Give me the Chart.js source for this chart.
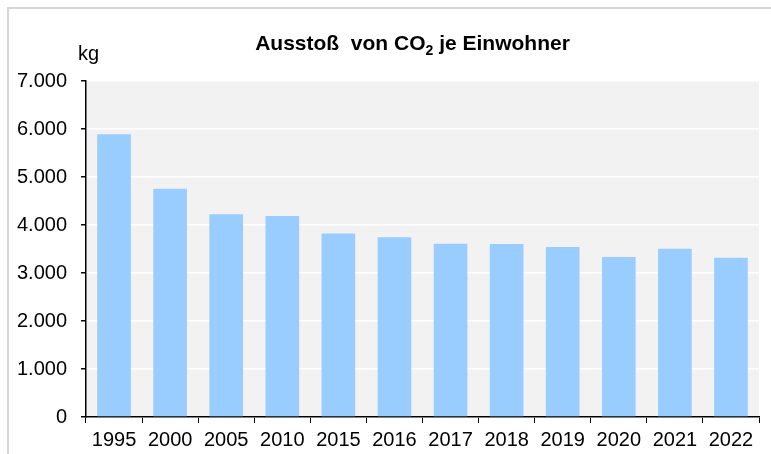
<!DOCTYPE html>
<html>
<head>
<meta charset="utf-8">
<script src="https://cdn.jsdelivr.net/npm/chart.js@4/dist/chart.umd.min.js"></script>
<style>
  html, body { margin: 0; padding: 0; background: #ffffff; }
  #wrap { width: 771px; height: 454px; }
</style>
</head>
<body>
<div id="wrap"><canvas id="c" width="771" height="454"></canvas></div>
<script>
// ---- data ----
const years = ['1995','2000','2005','2010','2015','2016','2017','2018','2019','2020','2021','2022'];
const co2PerCapita = [5890, 4755, 4225, 4190, 3825, 3745, 3610, 3605, 3540, 3335, 3505, 3320];
const yTickLabels = ['0','1.000','2.000','3.000','4.000','5.000','6.000','7.000'];
const titleParts = ['Ausstoß  von CO', '2', ' je Einwohner'];
const unitLabel = 'kg';

const FONT = '"Liberation Sans", Arial, sans-serif';

const decorPlugin = {
  id: 'decor',
  beforeDraw(chart) {
    const ctx = chart.ctx;
    const a = chart.chartArea;
    ctx.save();
    // outer frame (top + left)
    ctx.strokeStyle = '#d6d6d6';
    ctx.lineWidth = 2;
    ctx.beginPath();
    ctx.moveTo(7, 8); ctx.lineTo(771, 8);
    ctx.moveTo(8, 7); ctx.lineTo(8, 454);
    ctx.stroke();
    // plot background
    ctx.fillStyle = '#f2f2f2';
    ctx.fillRect(a.left, a.top, a.right - a.left, a.bottom - a.top);
    ctx.restore();
  },
  afterDraw(chart) {
    const ctx = chart.ctx;
    ctx.save();
    ctx.fillStyle = '#000000';
    ctx.textBaseline = 'alphabetic';
    ctx.textAlign = 'left';
    const mainFont = 'bold 21px ' + FONT;
    const subFont = 'bold 14px ' + FONT;
    ctx.font = mainFont;
    const w1 = ctx.measureText(titleParts[0]).width;
    const w3 = ctx.measureText(titleParts[2]).width;
    ctx.font = subFont;
    const w2 = ctx.measureText(titleParts[1]).width;
    const total = w1 + w2 + w3;
    let x = 412.5 - total / 2;
    const base = 50;
    ctx.font = mainFont;
    ctx.fillText(titleParts[0], x, base);
    x += w1;
    ctx.font = subFont;
    ctx.fillText(titleParts[1], x, base + 5);
    x += w2;
    ctx.font = mainFont;
    ctx.fillText(titleParts[2], x, base);
    // unit label
    ctx.font = '20px ' + FONT;
    ctx.fillText(unitLabel, 78, 60);
    ctx.restore();
  }
};

new Chart(document.getElementById('c'), {
  type: 'bar',
  data: {
    labels: years,
    datasets: [{
      data: co2PerCapita,
      backgroundColor: '#99ccff',
      borderWidth: 0,
      barPercentage: 0.6,
      categoryPercentage: 1.0
    }]
  },
  options: {
    responsive: false,
    animation: false,
    devicePixelRatio: 1,
    layout: { padding: { left: 0, top: 81, right: 12, bottom: 0 } },
    plugins: {
      legend: { display: false },
      title: { display: false },
      tooltip: { enabled: false }
    },
    scales: {
      x: {
        offset: true,
        grid: {
          offset: true,
          drawOnChartArea: false,
          drawTicks: true,
          tickLength: 6,
          tickColor: '#000000',
          color: '#000000'
        },
        border: { display: true, color: '#000000', width: 1.5 },
        ticks: {
          color: '#000000',
          font: { family: FONT, size: 20 },
          padding: 5,
          maxRotation: 0,
          autoSkip: false
        },
        afterFit(scale) { scale.height = 37; }
      },
      y: {
        min: 0,
        max: 7000,
        ticks: {
          stepSize: 1000,
          color: '#000000',
          font: { family: FONT, size: 20 },
          padding: 14,
          callback: (v) => yTickLabels[Math.round(v / 1000)]
        },
        grid: {
          color: '#ffffff',
          lineWidth: 1.5,
          tickColor: '#000000',
          tickLength: 5,
          drawTicks: true
        },
        border: { display: true, color: '#000000', width: 1.5 },
        afterFit(scale) { scale.width = 86; }
      }
    }
  },
  plugins: [decorPlugin]
});
</script>
</body>
</html>
